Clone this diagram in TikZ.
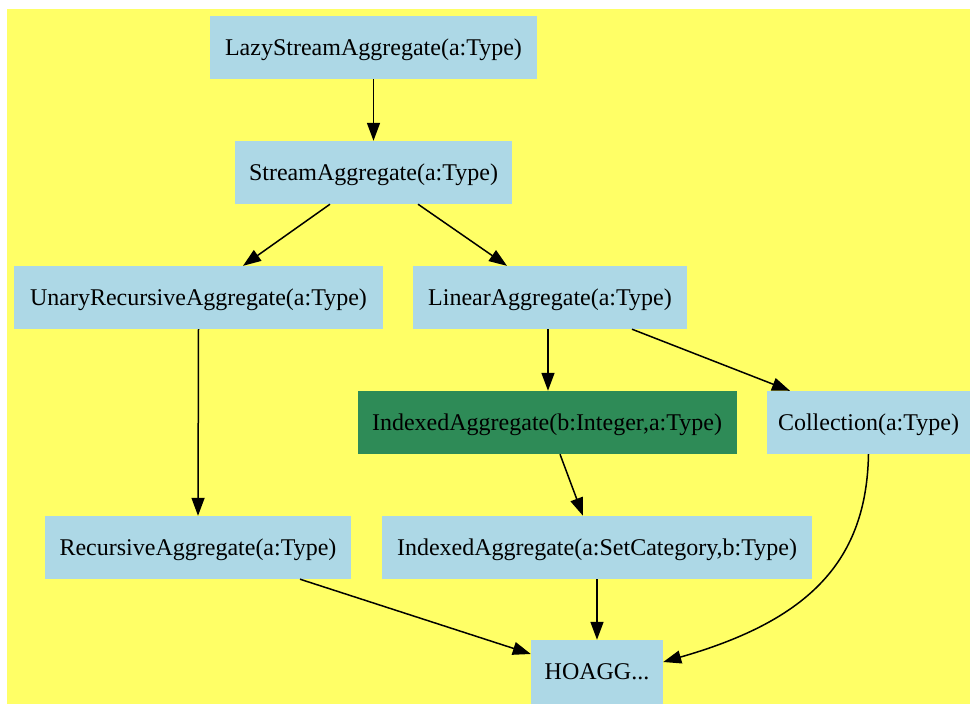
\documentclass[tikz,border=0pt]{standalone}
\usepackage{fontspec}
\setmainfont{Liberation Serif}
\usetikzlibrary{arrows.meta}
\definecolor{bgyellow}{HTML}{FFFF66}
\definecolor{boxblue}{HTML}{ADD8E6}
\definecolor{boxgreen}{HTML}{2E8B57}
\tikzset{
  box/.style={fill=boxblue, inner sep=0pt, minimum height=63pt, text height=17pt, text depth=2pt, font=\fontsize{24}{28}\selectfont},
  greenbox/.style={box, fill=boxgreen},
  edge/.style={line width=1.5pt, -{Triangle[length=18pt,width=13pt]}}
}
\begin{document}
\begin{tikzpicture}[x=1pt,y=-1pt]
\useasboundingbox (0,0) rectangle (970,704);
\fill[bgyellow] (7,9) rectangle (970,704);
\node[box, minimum width=327pt] (lazy) at (373.5,47.5) {LazyStreamAggregate(a:Type)};
\node[box, minimum width=277pt] (stream) at (373.5,172.5) {StreamAggregate(a:Type)};
\node[box, minimum width=369pt] (unary) at (198.5,297.5) {UnaryRecursiveAggregate(a:Type)};
\node[box, minimum width=274pt] (linear) at (550,297.5) {LinearAggregate(a:Type)};
\node[greenbox, minimum width=379pt] (idxb) at (547,422.5) {IndexedAggregate(b:Integer,a:Type)};
\node[box, minimum width=203pt] (coll) at (868.5,422.5) {Collection(a:Type)};
\node[box, minimum width=306pt] (rec) at (198,547.5) {RecursiveAggregate(a:Type)};
\node[box, minimum width=430pt] (idxa) at (597,547.5) {IndexedAggregate(a:SetCategory,b:Type)};
\node[box, minimum width=132pt, minimum height=64pt] (hoagg) at (597,672) {HOAGG...};
\draw[edge] (lazy.south) -- (stream.north);
\draw[edge] ([xshift=-43.5pt]stream.south) -- ([xshift=44.5pt]unary.north);
\draw[edge] ([xshift=44.5pt]stream.south) -- ([xshift=-43pt]linear.north);
\draw[edge] (unary.south) -- (rec.north);
\draw[edge] ([xshift=-2pt]linear.south) -- ([xshift=1pt]idxb.north);
\draw[edge] ([xshift=82pt]linear.south) -- ([xshift=-78.5pt]coll.north);
\draw[edge] ([xshift=13pt]idxb.south) -- ([xshift=-14pt]idxa.north);
\draw[edge] (idxa.south) -- (hoagg.north);
\draw[edge] ([xshift=102pt]rec.south) -- ([yshift=18pt]hoagg.west);
\draw[edge] (coll.south) .. controls +(-2,106) and +(147,-42) .. ([yshift=10pt]hoagg.east);
\end{tikzpicture}
\end{document}
